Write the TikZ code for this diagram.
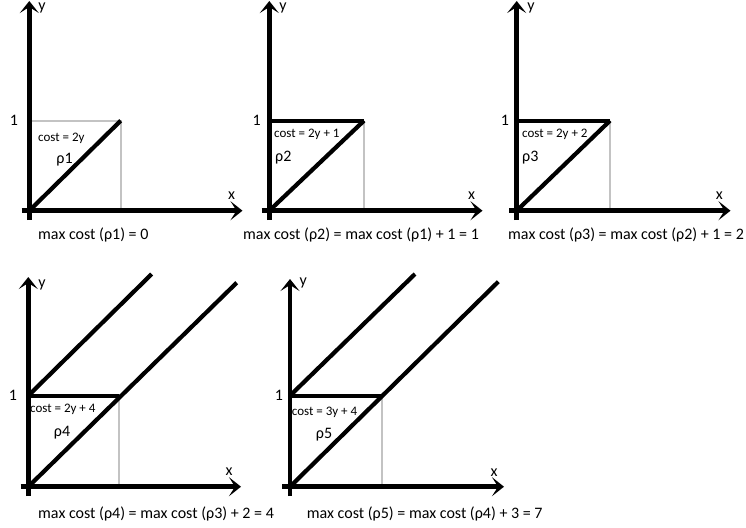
\documentclass[tikz,border=0pt]{standalone}
\usepackage{fontspec}
\setmainfont{Carlito}
\usetikzlibrary{arrows.meta}
\definecolor{guide}{RGB}{195,195,195}
\tikzset{
  axis/.style={line width=4.5pt,-{Stealth[length=12pt,width=19pt,inset=6pt]}},
  thickline/.style={line width=4.2pt},
  guideline/.style={draw=guide,line width=1.6pt},
  lbl/.style={inner sep=0pt,font=\fontsize{16}{18}\selectfont},
  costlbl/.style={inner sep=0pt,anchor=west,font=\fontsize{13}{15}\selectfont},
  caption/.style={inner sep=0pt,anchor=west,font=\fontsize{16}{18}\selectfont}
}
\begin{document}
\begin{tikzpicture}[x=1pt,y=-1pt]
\useasboundingbox (0,0) rectangle (746,527);
% ---------- panel 1 ----------
\coordinate (O1) at (29.3,210.7);
\coordinate (Y1b) at (29.3,220);
\coordinate (Y1t) at (29.3,1);
\coordinate (X1l) at (21.7,210.7);
\coordinate (X1r) at (242.5,210.7);
\coordinate (P1) at (120.7,120.7);
\coordinate (L1) at (29.3,120.7);
\coordinate (B1) at (120.7,210.7);
\draw[guideline] (L1) -- (P1) -- (B1);
\draw[thickline] (O1) -- (P1);
\draw[axis] (Y1b) -- (Y1t);
\draw[axis] (X1l) -- (X1r);
\node[lbl] (one1) at (14,120.7) {1};
\node[lbl] (ylab1) at (42,8) {y};
\node[lbl] (xlab1) at (231.7,196) {x};
\node[costlbl] (c1) at (38,138) {cost = 2y};
\node[lbl] (r1) at (64.5,160) {ρ1};
\node[caption] (cap1) at (38,235) {max cost (ρ1) = 0};
% ---------- panel 2 ----------
\coordinate (O2) at (269.3,210.7);
\coordinate (Y2b) at (269.3,220);
\coordinate (Y2t) at (269.3,1);
\coordinate (X2l) at (261.7,210.7);
\coordinate (X2r) at (482.5,210.7);
\coordinate (P2) at (364,120.7);
\coordinate (L2) at (269.3,120.7);
\coordinate (B2) at (364,210.7);
\draw[guideline] (P2) -- (B2);
\draw[thickline] (L2) -- (P2);
\draw[thickline] (O2) -- (P2);
\draw[axis] (Y2b) -- (Y2t);
\draw[axis] (X2l) -- (X2r);
\node[lbl] (one2) at (256.7,120.7) {1};
\node[lbl] (ylab2) at (283,8) {y};
\node[lbl] (xlab2) at (471.7,196) {x};
\node[costlbl] (c2) at (274,134) {cost = 2y + 1};
\node[lbl,anchor=west] (r2) at (275,158) {ρ2};
\node[caption] (cap2) at (243,235) {max cost (ρ2) = max cost (ρ1) + 1 = 1};
% ---------- panel 3 ----------
\coordinate (O3) at (516.7,210.7);
\coordinate (Y3b) at (516.7,220);
\coordinate (Y3t) at (516.7,1);
\coordinate (X3l) at (509,210.7);
\coordinate (X3r) at (730.5,210.7);
\coordinate (P3) at (610,120.7);
\coordinate (L3) at (516.7,120.7);
\coordinate (B3) at (610,210.7);
\draw[guideline] (P3) -- (B3);
\draw[thickline] (L3) -- (P3);
\draw[thickline] (O3) -- (P3);
\draw[axis] (Y3b) -- (Y3t);
\draw[axis] (X3l) -- (X3r);
\node[lbl] (one3) at (505,120.7) {1};
\node[lbl] (ylab3) at (531,8) {y};
\node[lbl] (xlab3) at (719.3,196) {x};
\node[costlbl] (c3) at (522,134) {cost = 2y + 2};
\node[lbl,anchor=west] (r3) at (522,158) {ρ3};
\node[caption] (cap3) at (508,235) {max cost (ρ3) = max cost (ρ2) + 1 = 2};
% ---------- panel 4 ----------
\coordinate (O4) at (28.3,486.7);
\coordinate (Y4b) at (28.3,496);
\coordinate (Y4t) at (28.3,277);
\coordinate (X4l) at (20.7,486.7);
\coordinate (X4r) at (241,486.7);
\coordinate (P4) at (119,395.7);
\coordinate (L4) at (28.3,395.7);
\coordinate (B4) at (119,486.7);
\coordinate (U4) at (151.7,274);
\coordinate (D4) at (236.7,282.7);
\draw[guideline] (P4) -- (B4);
\draw[thickline] (L4) -- (P4);
\draw[thickline] (L4) -- (U4);
\draw[thickline] (O4) -- (D4);
\draw[axis] (Y4b) -- (Y4t);
\draw[axis] (X4l) -- (X4r);
\node[lbl] (one4) at (13,395.7) {1};
\node[lbl] (ylab4) at (42,285) {y};
\node[lbl] (xlab4) at (229,472) {x};
\node[costlbl] (c4) at (30,409) {cost = 2y + 4};
\node[lbl] (r4) at (62,433) {ρ4};
\node[caption] (cap4) at (38,514) {max cost (ρ4) = max cost (ρ3) + 2 = 4};
% ---------- panel 5 ----------
\coordinate (O5) at (290,486.7);
\coordinate (Y5b) at (290,496);
\coordinate (Y5t) at (290,279);
\coordinate (X5l) at (282,486.7);
\coordinate (X5r) at (504,486.7);
\coordinate (P5) at (381.7,395.7);
\coordinate (L5) at (290,395.7);
\coordinate (B5) at (381.7,486.7);
\coordinate (U5) at (415,274);
\coordinate (D5) at (498.3,281.7);
\draw[guideline] (P5) -- (B5);
\draw[thickline] (L5) -- (P5);
\draw[thickline] (L5) -- (U5);
\draw[thickline] (O5) -- (D5);
\draw[axis] (Y5b) -- (Y5t);
\draw[axis] (X5l) -- (X5r);
\node[lbl] (one5) at (279,395.7) {1};
\node[lbl] (ylab5) at (303.3,283) {y};
\node[lbl] (xlab5) at (494,473) {x};
\node[costlbl] (c5) at (291.7,412) {cost = 3y + 4};
\node[lbl] (r5) at (324,435) {ρ5};
\node[caption] (cap5) at (306.7,514) {max cost (ρ5) = max cost (ρ4) + 3 = 7};
\end{tikzpicture}
\end{document}
